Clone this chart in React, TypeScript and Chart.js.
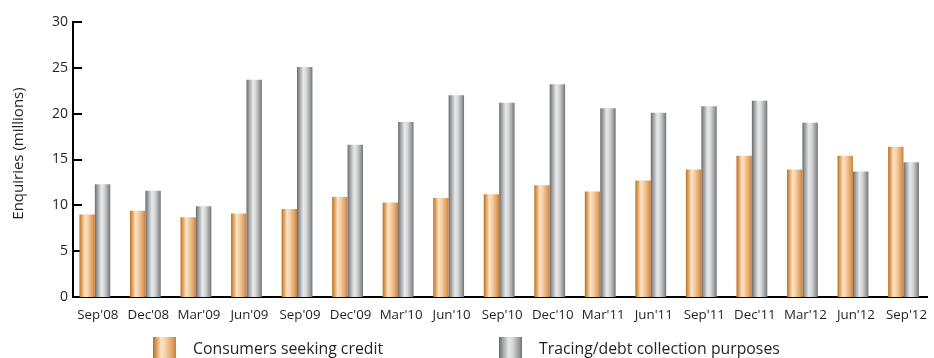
import React, { useEffect, useRef } from 'react';
import { Chart, registerables } from 'chart.js';

Chart.register(...registerables);

// Quarter-end labels
const quarters = [
  "Sep'08", "Dec'08", "Mar'09", "Jun'09", "Sep'09", "Dec'09", "Mar'10", "Jun'10", "Sep'10",
  "Dec'10", "Mar'11", "Jun'11", "Sep'11", "Dec'11", "Mar'12", "Jun'12", "Sep'12",
];

// Enquiries, millions
const consumersSeekingCredit = [
  9.0, 9.4, 8.7, 9.1, 9.6, 10.9, 10.3, 10.8, 11.2, 12.2, 11.5, 12.7, 13.9, 15.4, 13.9, 15.4, 16.4,
];
const tracingDebtCollection = [
  12.3, 11.6, 9.9, 23.7, 25.1, 16.6, 19.1, 22.0, 21.2, 23.2, 20.6, 20.1, 20.8, 21.4, 19.0, 13.7, 14.7,
];

const yTicks = [0, 5, 10, 15, 20, 25, 30];

const seriesNames = ['Consumers seeking credit', 'Tracing/debt collection purposes'];
const yTitle = 'Enquiries (millions)';

const FONT = '"Open Sans", "Noto Sans", sans-serif';
const TEXT = '#231f20';

type Stop = [number, string];

// Horizontal "cylinder" shading for each series
const orangeStops: Stop[] = [
  [0, '#bb7020'],
  [0.12, '#d6964f'],
  [0.36, '#fde3c6'],
  [0.55, '#f6cfa4'],
  [0.85, '#dea062'],
  [1, '#c97f36'],
];
const grayStops: Stop[] = [
  [0, '#68696b'],
  [0.15, '#9a9b9d'],
  [0.42, '#e8e9ea'],
  [0.6, '#d6d7d8'],
  [0.85, '#9d9ea0'],
  [1, '#717274'],
];
const seriesStops = [orangeStops, grayStops];

function hGradient(ctx: CanvasRenderingContext2D, x0: number, x1: number, stops: Stop[]) {
  const g = ctx.createLinearGradient(x0, 0, x1, 0);
  stops.forEach(([o, c]) => g.addColorStop(o, c));
  return g;
}

// Paints each bar with its own left-to-right gradient
const barShading = {
  id: 'barShading',
  beforeDatasetsDraw(chart: any) {
    const ctx = chart.ctx as CanvasRenderingContext2D;
    chart.data.datasets.forEach((_: any, di: number) => {
      const meta = chart.getDatasetMeta(di);
      meta.data.forEach((el: any) => {
        const { x, width } = el.getProps(['x', 'width'], true);
        el.options.backgroundColor = hGradient(ctx, x - width / 2, x + width / 2, seriesStops[di]);
      });
    });
  },
};

// Short inward tick marks on the value axis, plus the rotated axis title
const valueAxisDecor = {
  id: 'valueAxisDecor',
  beforeDatasetsDraw(chart: any) {
    const ctx = chart.ctx as CanvasRenderingContext2D;
    const y = chart.scales.y;
    const left = chart.chartArea.left;
    ctx.save();
    ctx.strokeStyle = '#000';
    ctx.lineWidth = 2;
    yTicks.forEach((v) => {
      if (v === 0) return;
      const py = Math.round(y.getPixelForValue(v));
      ctx.beginPath();
      ctx.moveTo(left - 1, py);
      ctx.lineTo(left + 9, py);
      ctx.stroke();
    });
    ctx.restore();

    ctx.save();
    ctx.translate(18.5, 153.5);
    ctx.rotate(-Math.PI / 2);
    ctx.fillStyle = TEXT;
    ctx.font = `15px ${FONT}`;
    ctx.textAlign = 'center';
    ctx.textBaseline = 'middle';
    ctx.fillText(yTitle, 0, 0);
    ctx.restore();
  },
};

// Legend row under the axis labels
const legendRow = {
  id: 'legendRow',
  afterDraw(chart: any) {
    const ctx = chart.ctx as CanvasRenderingContext2D;
    const boxX = [153, 499];
    const textX = [193, 539];
    const boxTop = 337;
    const boxW = 23;
    const boxH = 24;
    ctx.save();
    seriesNames.forEach((name, i) => {
      ctx.fillStyle = hGradient(ctx, boxX[i], boxX[i] + boxW, seriesStops[i]);
      ctx.fillRect(boxX[i], boxTop, boxW, boxH);
      ctx.fillStyle = TEXT;
      ctx.font = `15.8px ${FONT}`;
      ctx.textBaseline = 'alphabetic';
      ctx.textAlign = 'left';
      ctx.fillText(name, textX[i], 354);
    });
    ctx.restore();
  },
};

export default function App() {
  const canvasRef = useRef<HTMLCanvasElement>(null);

  useEffect(() => {
    const canvas = canvasRef.current;
    if (!canvas) return;

    const chart = new Chart(canvas, {
      type: 'bar',
      data: {
        datasets: [
          {
            label: seriesNames[0],
            data: quarters.map((_, i) => ({ x: i, y: consumersSeekingCredit[i] })),
            backgroundColor: () => '#d08a40',
            borderWidth: 0,
          },
          {
            label: seriesNames[1],
            data: quarters.map((_, i) => ({ x: i, y: tracingDebtCollection[i] })),
            backgroundColor: () => '#b0b1b3',
            borderWidth: 0,
          },
        ],
      } as any,
      options: {
        animation: false,
        responsive: false,
        maintainAspectRatio: false,
        devicePixelRatio: 1,
        layout: { padding: { top: 22, left: 0, right: 0, bottom: 0 } },
        datasets: { bar: { categoryPercentage: 0.61, barPercentage: 1 } },
        scales: {
          x: {
            type: 'linear',
            min: -0.432,
            max: 16.47,
            offset: false,
            z: 1,
            grid: { display: false, drawTicks: false, offset: false },
            border: { display: true, color: '#000', width: 2 },
            afterBuildTicks: (s: any) => {
              s.ticks = quarters.map((_, i) => ({ value: i }));
            },
            afterFit: (s: any) => {
              s.height = 61;
            },
            ticks: {
              autoSkip: false,
              maxRotation: 0,
              minRotation: 0,
              padding: 10,
              labelOffset: 3,
              color: TEXT,
              font: { family: FONT, size: 13.3 },
              callback: (v: any) => quarters[v as number] ?? '',
            },
          },
          y: {
            min: 0,
            max: 30,
            z: 1,
            afterBuildTicks: (s: any) => {
              s.ticks = yTicks.map((v) => ({ value: v }));
            },
            afterFit: (s: any) => {
              s.width = 73;
            },
            grid: { display: false, drawTicks: false },
            border: { display: true, color: '#000', width: 2 },
            ticks: { padding: 5, color: TEXT, font: { family: FONT, size: 14 } },
          },
        },
        plugins: {
          legend: { display: false },
          tooltip: { enabled: false },
        },
      } as any,
      plugins: [barShading, valueAxisDecor, legendRow],
    });

    return () => chart.destroy();
  }, []);

  return (
    <div
      style={{
        position: 'absolute',
        left: 0,
        top: 0,
        width: 934,
        height: 358,
        overflow: 'hidden',
        background: '#fff',
      }}
    >
      <canvas ref={canvasRef} width={934} height={358} style={{ display: 'block' }} />
    </div>
  );
}
